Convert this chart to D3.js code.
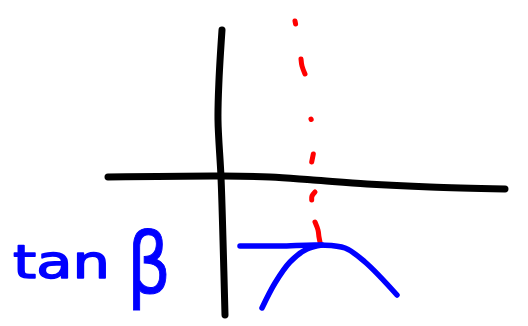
<!DOCTYPE html>
<html>
<head>
<meta charset="utf-8">
<script src="https://cdn.jsdelivr.net/npm/d3@7"></script>
<style>
  html, body { margin: 0; padding: 0; background: #fff; }
  svg { display: block; }
</style>
</head>
<body>
<div id="chart"></div>
<script>
// hand-drawn sketch: strokes in sketch units (0..528 x 0..326)
const verticalAxis = [[222, 30], [219, 80], [218, 120], [221, 177], [223, 240], [225, 315]];
const horizontalAxis = [[108, 177], [222, 176], [270, 177], [313, 180], [367, 184], [430, 187], [505, 189]];
const blueCapLine = [[240, 246], [280, 246], [320, 245], [345, 248], [365, 262], [397, 295]];
const blueRise = [[262, 308], [275, 283], [290, 262], [307, 249], [322, 245]];
const redDashes = [
  [[295, 21], [295.6, 24]],
  [[301, 59], [302, 66], [305, 74]],
  [[311, 119], [311.2, 119.5]],
  [[313.3, 154], [311.7, 162]],
  [[315, 192], [312, 196], [311.7, 200]],
  [[315, 222], [318, 230], [319, 237], [320, 242]]
];
const labelMain = 'tan';
const labelGreek = 'β';

const width = 528, height = 326;
const x = d3.scaleLinear().domain([0, 528]).range([0, width]);
const y = d3.scaleLinear().domain([0, 326]).range([0, height]);

const svg = d3.select('#chart').append('svg')
  .attr('width', width)
  .attr('height', height);

const smooth = d3.line().x(d => x(d[0])).y(d => y(d[1])).curve(d3.curveCatmullRom);

const stroke = (pts, color, w) => svg.append('path')
  .attr('d', smooth(pts))
  .attr('fill', 'none')
  .attr('stroke', color)
  .attr('stroke-width', w)
  .attr('stroke-linecap', 'round')
  .attr('stroke-linejoin', 'round');

// axes
stroke(verticalAxis, '#000', 7);
stroke(horizontalAxis, '#000', 7);

// red dashed vertical
redDashes.forEach(d => stroke(d, '#ff0000', 5));

// blue curve
stroke(blueCapLine, '#0000ff', 5.5);
stroke(blueRise, '#0000ff', 5.5);

// label
svg.append('text')
  .attr('x', x(13))
  .attr('y', y(278))
  .attr('font-family', 'DejaVu Sans')
  .attr('font-size', 46)
  .attr('fill', '#0000ff')
  .attr('stroke', '#0000ff')
  .attr('stroke-width', 1.5)
  .attr('stroke-linejoin', 'round')
  .attr('textLength', 97)
  .attr('lengthAdjust', 'spacingAndGlyphs')
  .text(labelMain);

svg.append('text')
  .attr('x', x(127))
  .attr('y', y(293))
  .attr('font-family', 'DejaVu Sans')
  .attr('font-size', 84)
  .attr('fill', '#0000ff')
  .attr('stroke', '#0000ff')
  .attr('stroke-width', 1)
  .attr('textLength', 44)
  .attr('lengthAdjust', 'spacingAndGlyphs')
  .text(labelGreek);
</script>
</body>
</html>
